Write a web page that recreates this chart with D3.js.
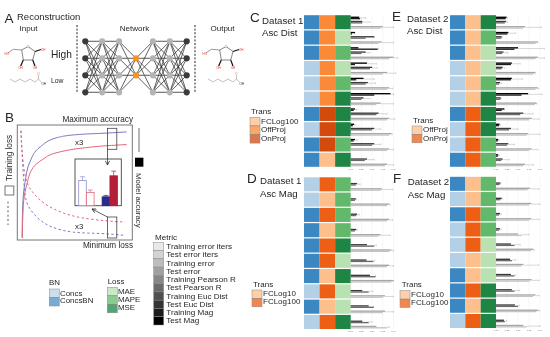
<!DOCTYPE html>
<html>
<head>
<meta charset="utf-8">
<script src="https://cdn.jsdelivr.net/npm/d3@7"></script>
<style>
    html, body { margin: 0; padding: 0; background: #fff; }
    svg { display: block; filter: blur(0.3px); }
    text { font-family: "Liberation Sans", Arial, sans-serif; fill: #262626; }
</style>
</head>
<body>
<svg width="550" height="337"></svg>
<script>
// Category colours
const BN_COLOURS = { Concs: "#b4d0e7", ConcsBN: "#3a87c2" };
const LOSS_COLOURS = { MAE: "#b9e1b2", MAPE: "#62b96b", MSE: "#1e8544" };
const C_TRANS_COLOURS = { FCLog100: "#fdbf8b", OffProj: "#fb8a38", OnProj: "#d24a0c" };
const E_TRANS_COLOURS = { OffProj: "#fdbf8b", OnProj: "#ec5f14" };
const MAG_TRANS_COLOURS = { FCLog10: "#fdbf8b", FCLog100: "#ec5f14" };

const METRICS = ["Training error iters", "Test error iters", "Training error", "Test error", "Training Pearson R",
    "Test Pearson R", "Training Euc Dist", "Test Euc Dist", "Training Mag", "Test Mag"];
const METRIC_COLOURS = ["#e8e8e8", "#d3d3d3", "#bdbdbd", "#a0a0a0", "#868686", "#6a6a6a", "#505050", "#343434", "#1c1c1c", "#000000"];
const TICKS = [0, 0.25, 0.5, 0.75, 1];

// Panel C
const cBn = ["ConcsBN", "ConcsBN", "ConcsBN", "Concs", "Concs", "Concs", "ConcsBN", "Concs", "ConcsBN", "ConcsBN"];
const cTrans = ["OffProj", "OffProj", "OffProj", "OffProj", "OffProj", "OffProj", "OnProj", "OnProj", "OnProj", "FCLog100"];
const cLoss = ["MSE", "MAE", "MAPE", "MAE", "MAPE", "MSE", "MSE", "MSE", "MAPE", "MSE"];
const cMagTest = [0.20, 0.10, 0.18, 0.38, 0.30, 0.93, 0.10, 0.08, 0.10, 0];
const cMagTrain = [0.22, 0.03, 0.63, 0.10, 0.13, 0.55, 0.07, 0.05, 0.07, 0];
const cMagWhisk = [0.35, 0.10, 0.65, 0.60, 0.55, 1.00, 0.15, 0.10, 0.15, 0];
const cEucTest = [0.27, 0.55, 0.35, 0.50, 0.40, 0.30, 0.65, 0.55, 0.55, 0.38];
const cEucTrain = [0.27, 0.35, 0.25, 0.45, 0.35, 0.25, 0.60, 0.50, 0.50, 0.33];
const cEucWhisk = [0.45, 0.55, 0.45, 0.62, 0.58, 0.45, 0.85, 0.70, 0.70, 0.55];
const cErrTest = [0.75, 0.72, 1.00, 0.85, 0.90, 0.70, 0.90, 0.95, 0.90, 0.85];
const cErrTrain = [0.70, 0.65, 0.90, 0.75, 0.85, 0.60, 0.85, 0.90, 0.85, 0.80];
const cErrWhisk = [1.00, 1.00, 1.10, 1.05, 0.98, 1.00, 1.03, 0.97, 1.00, 1.00];

// Panel E
const eBn = ["ConcsBN", "ConcsBN", "ConcsBN", "Concs", "Concs", "Concs", "ConcsBN", "Concs", "Concs", "ConcsBN"];
const eTrans = ["OffProj", "OffProj", "OffProj", "OffProj", "OffProj", "OffProj", "OnProj", "OnProj", "OnProj", "OnProj"];
const eLoss = ["MSE", "MAPE", "MAE", "MAE", "MAPE", "MSE", "MSE", "MSE", "MAPE", "MAPE"];
const eMagTest = [0.24, 0.28, 0.50, 0.36, 0.36, 0.73, 0.19, 0.08, 0.05, 0.05];
const eMagTrain = [0.22, 0.26, 0.42, 0.34, 0.34, 0.58, 0.13, 0.07, 0.04, 0.04];
const eMagWhisk = [0.26, 0.44, 1.10, 0.55, 0.60, 1.05, 0.19, 0.10, 0.07, 0.08];
const eEucTest = [0.23, 0.13, 0.17, 0.15, 0.09, 0.11, 0.62, 0.34, 0.28, 0.15];
const eEucTrain = [0.20, 0.12, 0.14, 0.13, 0.07, 0.10, 0.55, 0.30, 0.25, 0.12];
const eEucWhisk = [0.26, 0.14, 0.27, 0.20, 0.12, 0.12, 0.84, 0.50, 0.42, 0.30];
const eErrTest = [0.66, 0.95, 0.95, 0.89, 0.95, 0.92, 0.81, 0.73, 0.81, 0.66];
const eErrTrain = [0.62, 0.90, 0.90, 0.85, 0.90, 0.88, 0.75, 0.70, 0.75, 0.62];
const eErrWhisk = [1.03, 0.95, 1.10, 0.90, 0.97, 0.93, 0.98, 1.00, 0.95, 0.85];

// Panel D
const dBn = ["Concs", "Concs", "ConcsBN", "ConcsBN", "ConcsBN", "ConcsBN", "ConcsBN", "Concs", "ConcsBN", "Concs"];
const dTrans = ["FCLog100", "FCLog10", "FCLog100", "FCLog10", "FCLog100", "FCLog100", "FCLog10", "FCLog100", "FCLog10", "FCLog100"];
const dLoss = ["MAPE", "MAPE", "MAPE", "MAPE", "MSE", "MAE", "MSE", "MAE", "MAE", "MSE"];
const dEucTest = [0.15, 0.12, 0.15, 0.13, 0.38, 0.37, 0.45, 0.27, 0.42, 0.27];
const dEucTrain = [0.12, 0.10, 0.13, 0.10, 0.55, 0.53, 0.58, 0.42, 0.54, 0.42];
const dEucWhisk = [0.22, 0.14, 0.20, 0.15, 0.60, 0.56, 0.58, 0.52, 0.54, 0.50];
const dErrTest = [0.73, 0.90, 0.90, 0.70, 0.95, 0.90, 1.00, 0.80, 0.80, 0.60];
const dErrTrain = [0.70, 0.85, 0.85, 0.65, 0.90, 0.85, 0.95, 0.75, 0.75, 0.85];
const dErrWhisk = [0.98, 0.92, 0.98, 0.92, 1.00, 1.00, 1.00, 1.00, 1.00, 0.90];

// Panel F
const fBn = ["ConcsBN", "Concs", "ConcsBN", "Concs", "Concs", "Concs", "ConcsBN", "ConcsBN", "ConcsBN", "Concs"];
const fTrans = ["FCLog10", "FCLog10", "FCLog100", "FCLog100", "FCLog100", "FCLog10", "FCLog10", "FCLog100", "FCLog10", "FCLog100"];
const fLoss = ["MAPE", "MAPE", "MAPE", "MAPE", "MAE", "MAE", "MAE", "MSE", "MSE", "MSE"];
const fEucTest = [0.10, 0.13, 0.09, 0.09, 0.34, 0.32, 0.34, 0.36, 0.43, 0.18];
const fEucTrain = [0.08, 0.10, 0.07, 0.07, 0.42, 0.36, 0.42, 0.42, 0.50, 0.20];
const fEucWhisk = [0.11, 0.14, 0.12, 0.12, 0.55, 0.45, 0.45, 0.54, 0.53, 0.24];
const fErrTest = [0.77, 0.80, 0.80, 0.50, 0.85, 0.62, 0.81, 0.89, 0.96, 0.62];
const fErrTrain = [0.72, 0.75, 0.75, 0.58, 0.80, 0.58, 0.76, 0.84, 0.92, 0.70];
const fErrWhisk = [0.98, 1.00, 0.98, 0.75, 0.87, 0.97, 0.98, 0.98, 0.99, 1.00];

// Panel B curves, in percent of the box
const blueSolid = [[4.2, 2], [4.7, 30], [6.7, 50], [11, 68], [20, 81], [34.5, 89], [57, 92], [78, 93], [95, 94]];
const redSolid = [[4.3, 2], [5.2, 30], [8.2, 48], [13.7, 63], [22, 70], [34.5, 76], [57, 80], [78, 82], [95, 83]];
const blueDashed = [[3.2, 95], [3.8, 80], [5.2, 58], [6.7, 36.5], [9.3, 29], [17, 19], [28.4, 11], [48, 6], [72, 6], [93.6, 4]];
const redDashed = [[3.2, 95], [3.8, 80], [6.7, 50], [13.7, 41], [22, 32], [37, 24], [54.5, 19], [78, 16.5], [93.6, 15.6]];

// Panel B inset bars
const insetNames = ["openBlue", "openRed", "gap", "fullBlue", "fullRed"];
const insetValues = [54, 28.5, 0, 19, 64];
const insetWhisk = [62, 33.5, 0, 22, 74];
const insetStroke = ["#8f8fd0", "#df6a78", "none", "#23237f", "#b21c34"];
const insetFill = ["#fff", "#fff", "none", "#2a2a8c", "#b51e36"];

// Panel A network
const layerSizes = [4, 4, 4, 2, 4, 4, 4];
const layerColours = ["#3b3b3b", "#b4b4b4", "#b4b4b4", "#f7931e", "#b4b4b4", "#b4b4b4", "#3b3b3b"];
const nodeSlots = [0, 1, 2, 3];

// Molecules
const ringAtoms = [[28, 46.5], [35, 51.5], [32.7, 60], [23.3, 60], [21.7, 50], [28, 46.5]];
const ringBonds = [[[21.7, 50], [13.3, 49.3], [8, 53]], [[35, 51.5], [41, 49.5]], [[32.7, 60], [35, 66]], [[23.3, 60], [20.7, 66]]];
const chainBond = [[10, 79], [15, 82], [20, 79], [25, 82], [30, 79], [35, 82], [38.5, 79]];
const acidBonds = [[[38.5, 79], [38.5, 75]], [[38.5, 79], [41.5, 82.5]]];

const svg = d3.select("svg");
const line = d3.line();

function label(parent, x, y, str, size, extra) {
    return parent.append("text").attr("x", x).attr("y", y).attr("font-size", size).text(str)
        .attr("text-anchor", extra || "start");
}

// ---- Panel A
label(svg, 4.5, 23, "A", 13.5);
label(svg, 17, 20, "Reconstruction", 9.5);
label(svg, 28.5, 31, "Input", 8, "middle");
label(svg, 134.5, 31, "Network", 8, "middle");
label(svg, 222.5, 31, "Output", 8, "middle");
label(svg, 51, 57.5, "High", 10.2);
label(svg, 51, 83, "Low", 6.8);

[77, 195].forEach((x) => {
    svg.append("line").attr("x1", x).attr("x2", x).attr("y1", 25).attr("y2", 93)
        .attr("stroke", "#222").attr("stroke-width", 1).attr("stroke-dasharray", "2,1.6");
});

const layerX = d3.scalePoint().domain(d3.range(layerSizes.length)).range([85.3, 186.7]);
const slotY = d3.scalePoint().domain(nodeSlots).range([41.3, 92.3]);
const layerSlots = layerSizes.map((n) => n === 4 ? nodeSlots : [1, 2]);
const net = svg.append("g");
layerSlots.slice(0, -1).forEach((slots, i) => {
    slots.forEach((a) => {
        layerSlots[i + 1].forEach((b) => {
            net.append("line")
                .attr("x1", layerX(i)).attr("y1", slotY(a))
                .attr("x2", layerX(i + 1)).attr("y2", slotY(b))
                .attr("stroke", a === b ? "#666" : "#222")
                .attr("stroke-width", a === b ? 1.1 : 0.7);
        });
    });
});
layerSlots.forEach((slots, i) => {
    net.selectAll(null).data(slots).enter().append("circle")
        .attr("cx", layerX(i)).attr("cy", (d) => slotY(d)).attr("r", 3.1)
        .attr("fill", layerColours[i]);
});

function molecule(dx) {
    const g = svg.append("g").attr("transform", `translate(${dx},0)`);
    g.append("path").attr("d", line(ringAtoms)).attr("fill", "none").attr("stroke", "#333").attr("stroke-width", 0.6);
    ringBonds.forEach((b, i) => {
        g.append("path").attr("d", line(b)).attr("fill", "none")
            .attr("stroke", i === 0 ? "#555" : "#111").attr("stroke-width", i === 0 ? 0.6 : 1.2);
    });
    g.append("circle").attr("cx", 28).attr("cy", 46.5).attr("r", 1.2).attr("fill", "#fff");
    label(g, 28, 47.8, "O", 3.4, "middle").style("fill", "#e03030");
    label(g, 4.5, 55.2, "HO", 3, "start").style("fill", "#e03030");
    label(g, 41, 50.5, "OH", 3, "start").style("fill", "#e03030");
    label(g, 35, 69, "OH", 3, "middle").style("fill", "#e03030");
    label(g, 20.5, 69, "OH", 3, "middle").style("fill", "#e03030");
    g.append("path").attr("d", line(chainBond)).attr("fill", "none").attr("stroke", "#999").attr("stroke-width", 0.6);
    acidBonds.forEach((b) => {
        g.append("path").attr("d", line(b)).attr("fill", "none").attr("stroke", "#999").attr("stroke-width", 0.6);
    });
    label(g, 38.5, 75, "O", 3, "middle").style("fill", "#b08080");
    label(g, 41.5, 85, "OH", 3, "start");
}
molecule(0);
molecule(198);

// ---- Panel B
label(svg, 5, 122, "B", 13.5);
label(svg, 133, 121.5, "Maximum accuracy", 8.2, "end");
label(svg, 133, 247.5, "Minimum loss", 8.2, "end");

const boxX = d3.scaleLinear().domain([0, 100]).range([17.3, 132.3]);
const boxY = d3.scaleLinear().domain([0, 100]).range([240, 125]);
svg.append("rect").attr("x", boxX(0)).attr("y", boxY(100)).attr("width", boxX(100) - boxX(0)).attr("height", boxY(0) - boxY(100))
    .attr("fill", "#fff").attr("stroke", "#777").attr("stroke-width", 1);

const curve = d3.line().x((d) => boxX(d[0])).y((d) => boxY(d[1])).curve(d3.curveMonotoneY);
const curveFlat = d3.line().x((d) => boxX(d[0])).y((d) => boxY(d[1])).curve(d3.curveBasis);
svg.append("path").attr("d", curve(blueSolid)).attr("fill", "none").attr("stroke", "#7a7ac4").attr("stroke-width", 1);
svg.append("path").attr("d", curve(redSolid)).attr("fill", "none").attr("stroke", "#e4657a").attr("stroke-width", 1);
svg.append("path").attr("d", curveFlat(blueDashed)).attr("fill", "none").attr("stroke", "#7a7ac4").attr("stroke-width", 1).attr("stroke-dasharray", "2.4,2.4");
svg.append("path").attr("d", curveFlat(redDashed)).attr("fill", "none").attr("stroke", "#e4657a").attr("stroke-width", 1).attr("stroke-dasharray", "2.4,2.4");

label(svg, 75, 145, "x3", 7.8);
label(svg, 75, 229, "x3", 7.8);

// callout boxes
[[128.3, 149.3], [217, 238]].forEach((r) => {
    svg.append("rect").attr("x", 107.5).attr("y", r[0]).attr("width", 9.3).attr("height", r[1] - r[0])
        .attr("fill", "none").attr("stroke", "#444").attr("stroke-width", 0.8);
});

// inset bar chart
const insetX = d3.scaleBand().domain(insetNames).range([78.7, 117.5]).paddingInner(0.03);
const insetY = d3.scaleLinear().domain([0, 100]).range([205.7, 159]);
svg.append("rect").attr("x", 75).attr("y", insetY(100)).attr("width", 46.3).attr("height", insetY(0) - insetY(100))
    .attr("fill", "#fff").attr("stroke", "#444").attr("stroke-width", 0.9);
insetNames.forEach((n, i) => {
    if (n === "gap") return;
    const cx = insetX(n) + insetX.bandwidth() / 2;
    svg.append("path").attr("d", line([[cx, insetY(insetValues[i])], [cx, insetY(insetWhisk[i])]]))
        .attr("stroke", insetStroke[i]).attr("stroke-width", 0.7);
    svg.append("path").attr("d", line([[cx - 2.5, insetY(insetWhisk[i])], [cx + 2.5, insetY(insetWhisk[i])]]))
        .attr("stroke", insetStroke[i]).attr("stroke-width", 0.7);
    svg.append("rect").attr("x", insetX(n)).attr("y", insetY(insetValues[i])).attr("width", insetX.bandwidth())
        .attr("height", insetY(0) - insetY(insetValues[i]))
        .attr("fill", insetFill[i]).attr("stroke", insetStroke[i]).attr("stroke-width", 0.8);
});

// arrows
svg.append("defs").append("marker").attr("id", "arrow").attr("viewBox", "0 0 6 6").attr("refX", 5.5).attr("refY", 3)
    .attr("markerWidth", 5).attr("markerHeight", 5).attr("markerUnits", "userSpaceOnUse").attr("orient", "auto")
    .append("path").attr("d", "M0.5,0.5L5.5,3L0.5,5.5").attr("fill", "none").attr("stroke", "#222").attr("stroke-width", 0.9);
svg.append("path").attr("d", line([[107.5, 149.3], [107.5, 165]])).attr("stroke", "#222").attr("stroke-width", 0.7).attr("marker-end", "url(#arrow)");
svg.append("path").attr("d", line([[107.5, 217], [92, 209]])).attr("stroke", "#222").attr("stroke-width", 0.7).attr("marker-end", "url(#arrow)");

// axis keys
svg.append("text").attr("transform", "translate(11.5,181) rotate(-90)").attr("font-size", 8.2).text("Training loss");
svg.append("rect").attr("x", 5).attr("y", 186).attr("width", 8.8).attr("height", 9)
    .attr("fill", "#fff").attr("stroke", "#666").attr("stroke-width", 0.9);
svg.append("path").attr("d", line([[8, 201.5], [8, 225]])).attr("stroke", "#777").attr("stroke-width", 1.2).attr("stroke-dasharray", "2,2.4");
svg.append("rect").attr("x", 135).attr("y", 157.7).attr("width", 8.4).attr("height", 9).attr("fill", "#000");
svg.append("path").attr("d", line([[139, 128], [139, 152]])).attr("stroke", "#999").attr("stroke-width", 1.4);
svg.append("text").attr("transform", "translate(136,173) rotate(90)").attr("font-size", 7.8).text("Model accuracy");

// ---- Legends
function legend(title, titleX, titleY, names, colours, x, yTop, h, textX, baseY, baseStep, size, alpha) {
    label(svg, titleX, titleY, title, size);
    names.forEach((n, i) => {
        svg.append("rect").attr("x", x).attr("y", yTop + i * h).attr("width", 10).attr("height", h)
            .attr("fill", colours[i]).attr("fill-opacity", alpha).attr("stroke", "#8a8a8a").attr("stroke-width", 0.5);
        label(svg, textX, baseY + i * baseStep, n, size);
    });
}
const lookup = (table) => Object.keys(table).map((k) => table[k]);

legend("BN", 49, 285, Object.keys(BN_COLOURS), lookup(BN_COLOURS), 49.3, 289, 8.5, 60, 295.7, 7.7, 7.9, 0.7);
legend("Loss", 107.7, 284, Object.keys(LOSS_COLOURS), lookup(LOSS_COLOURS), 107.3, 287.3, 8.5, 118, 294.3, 8, 7.9, 0.75);
legend("Metric", 155, 240, METRICS, METRIC_COLOURS, 153.7, 242.3, 8.27, 166.3, 249, 8.26, 8.1, 1);
legend("Trans", 251, 114, Object.keys(C_TRANS_COLOURS), lookup(C_TRANS_COLOURS), 250, 117.3, 8.6, 261, 124, 8.3, 8, 0.75);
legend("Trans", 413, 122.7, Object.keys(E_TRANS_COLOURS), lookup(E_TRANS_COLOURS), 412, 126, 8.4, 423, 131.7, 9, 8, 0.75);
legend("Trans", 253, 286.7, Object.keys(MAG_TRANS_COLOURS), lookup(MAG_TRANS_COLOURS), 252, 290, 8.4, 263, 295.7, 8.4, 8, 0.75);
legend("Trans", 401.7, 287, Object.keys(MAG_TRANS_COLOURS), lookup(MAG_TRANS_COLOURS), 400, 290.7, 8.4, 411, 296.7, 8.4, 8, 0.75);

// ---- Panels C, D, E, F
function heatBars(opts) {
    const g = svg.append("g");
    const rows = d3.range(opts.bn.length);
    const rowY = d3.scaleBand().domain(rows).range(opts.yRange).paddingInner(0.08);
    const colX = d3.scaleBand().domain([0, 1, 2]).range(opts.tileRange);
    const x = d3.scaleLinear().domain([0, 1]).range(opts.barRange);
    const h = rowY.bandwidth() / 14;

    label(svg, opts.letter[1], opts.letter[2], opts.letter[0], 13.5);
    label(svg, opts.titleX, opts.titleY[0], opts.title[0], 9.7);
    label(svg, opts.titleX, opts.titleY[1], opts.title[1], 9.7);

    TICKS.forEach((t) => {
        g.append("line").attr("x1", x(t)).attr("x2", x(t)).attr("y1", opts.yRange[0]).attr("y2", opts.yRange[1] + 1)
            .attr("stroke", "#ececec").attr("stroke-width", 0.5);
        g.append("text").attr("x", x(t)).attr("y", opts.yRange[1] + 3.4).attr("text-anchor", "middle")
            .attr("font-size", 2.4).style("fill", "#777").text(d3.format(".2f")(t));
    });

    const columns = [
        rows.map((r) => BN_COLOURS[opts.bn[r]]),
        rows.map((r) => opts.transColours[opts.trans[r]]),
        rows.map((r) => LOSS_COLOURS[opts.loss[r]])
    ];
    columns.forEach((colours, c) => {
        g.selectAll(null).data(rows).enter().append("rect")
            .attr("x", colX(c)).attr("y", (r) => rowY(r))
            .attr("width", colX.bandwidth()).attr("height", rowY.bandwidth())
            .attr("fill", (r) => colours[r]);
    });

    // each group: test bar, training bar and a whisker on the longer one
    opts.groups.forEach((grp) => {
        rows.forEach((r) => {
            const top = rowY(r) + grp.offset * h;
            const longest = Math.max(grp.test[r], grp.train[r]);
            if (longest === 0) return;
            const wy = top + 1.3 * h;
            g.append("line").attr("x1", x(longest)).attr("x2", x(grp.whisk[r])).attr("y1", wy).attr("y2", wy)
                .attr("stroke", "#a8a8a8").attr("stroke-width", 0.45);
            g.append("line").attr("x1", x(grp.whisk[r])).attr("x2", x(grp.whisk[r])).attr("y1", wy - 0.9).attr("y2", wy + 0.9)
                .attr("stroke", "#a8a8a8").attr("stroke-width", 0.45);
            g.append("rect").attr("x", x(0)).attr("y", top).attr("width", x(grp.test[r]) - x(0)).attr("height", 1.35 * h)
                .attr("fill", grp.colours[0]);
            g.append("rect").attr("x", x(0)).attr("y", top + 1.35 * h).attr("width", x(grp.train[r]) - x(0)).attr("height", 1.35 * h)
                .attr("fill", grp.colours[1]);
        });
    });
}

const MAG_COLOURS = ["#000", "#1c1c1c"];
const EUC_COLOURS = ["#3a3a3a", "#6a6a6a"];
const ERR_COLOURS = ["#a6a6a6", "#c4c4c4"];

heatBars({
    letter: ["C", 250, 22], title: ["Dataset 1", "Asc Dist"], titleX: 262, titleY: [24, 35.5],
    bn: cBn, trans: cTrans, loss: cLoss, transColours: C_TRANS_COLOURS,
    yRange: [15.2, 166.8], tileRange: [304, 350.7], barRange: [350.7, 393.5],
    groups: [
        { offset: 1.4, colours: MAG_COLOURS, test: cMagTest, train: cMagTrain, whisk: cMagWhisk },
        { offset: 5.6, colours: EUC_COLOURS, test: cEucTest, train: cEucTrain, whisk: cEucWhisk },
        { offset: 10.8, colours: ERR_COLOURS, test: cErrTest, train: cErrTrain, whisk: cErrWhisk }
    ]
});
heatBars({
    letter: ["E", 392, 21], title: ["Dataset 2", "Asc Dist"], titleX: 407, titleY: [22, 33.5],
    bn: eBn, trans: eTrans, loss: eLoss, transColours: E_TRANS_COLOURS,
    yRange: [15.2, 166.8], tileRange: [450, 496], barRange: [496, 540],
    groups: [
        { offset: 1.4, colours: MAG_COLOURS, test: eMagTest, train: eMagTrain, whisk: eMagWhisk },
        { offset: 5.6, colours: EUC_COLOURS, test: eEucTest, train: eEucTrain, whisk: eEucWhisk },
        { offset: 10.8, colours: ERR_COLOURS, test: eErrTest, train: eErrTrain, whisk: eErrWhisk }
    ]
});
heatBars({
    letter: ["D", 247, 183], title: ["Dataset 1", "Asc Mag"], titleX: 260, titleY: [184, 196.7],
    bn: dBn, trans: dTrans, loss: dLoss, transColours: MAG_TRANS_COLOURS,
    yRange: [177.3, 329], tileRange: [304, 350.7], barRange: [350.7, 393.5],
    groups: [
        { offset: 5.6, colours: EUC_COLOURS, test: dEucTest, train: dEucTrain, whisk: dEucWhisk },
        { offset: 10.8, colours: ERR_COLOURS, test: dErrTest, train: dErrTrain, whisk: dErrWhisk }
    ]
});
heatBars({
    letter: ["F", 393, 183], title: ["Dataset 2", "Asc Mag"], titleX: 407.7, titleY: [185, 197.7],
    bn: fBn, trans: fTrans, loss: fLoss, transColours: MAG_TRANS_COLOURS,
    yRange: [176.8, 328], tileRange: [450, 496], barRange: [496, 540],
    groups: [
        { offset: 5.6, colours: EUC_COLOURS, test: fEucTest, train: fEucTrain, whisk: fEucWhisk },
        { offset: 10.8, colours: ERR_COLOURS, test: fErrTest, train: fErrTrain, whisk: fErrWhisk }
    ]
});
</script>
</body>
</html>
